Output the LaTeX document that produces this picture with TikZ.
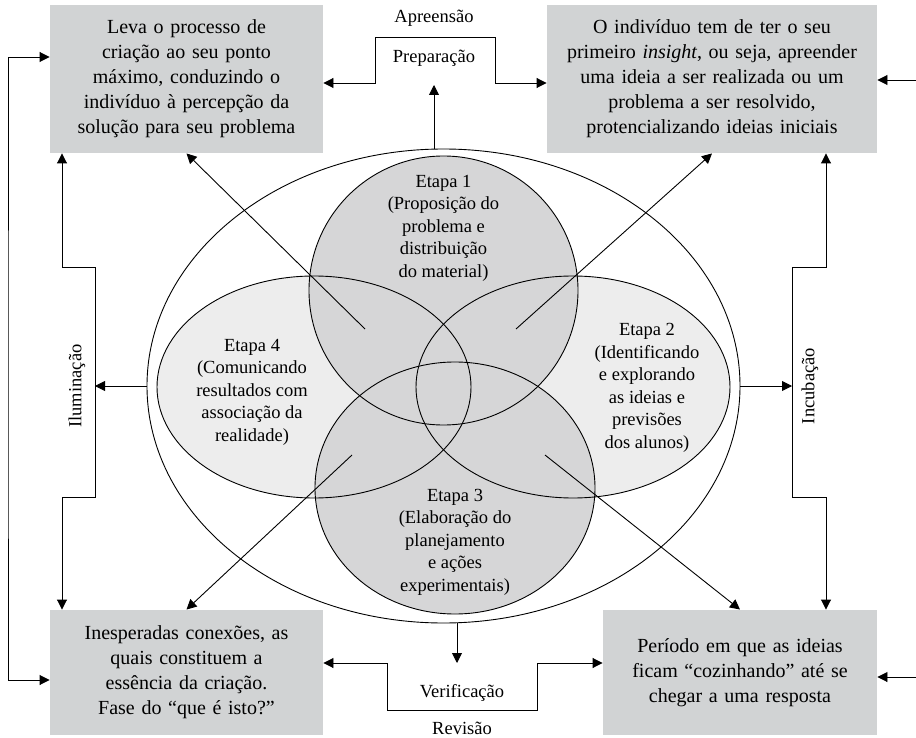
\documentclass[tikz,border=0pt]{standalone}
\usepackage{fontspec}
\setmainfont{Liberation Serif}
\usetikzlibrary{arrows.meta,shapes.geometric}

\definecolor{cinza}{RGB}{209,211,212}
\definecolor{escuro}{RGB}{214,214,215}
\definecolor{claro}{RGB}{237,237,237}

\tikzset{
  >={Triangle[length=10pt,width=10pt]},
  caixa/.style={fill=cinza, text width=#1, align=center, inner sep=0pt,
    font=\fontsize{20}{25}\selectfont},
  etapa/.style={align=center, inner sep=0pt, font=\fontsize{18.5}{22.5}\selectfont},
  rotulo/.style={inner sep=0pt, font=\fontsize{18.5}{20}\selectfont}
}

\begin{document}
\begin{tikzpicture}[x=1pt,y=-1pt,line width=0.9pt]
  \useasboundingbox (0,0) rectangle (916,738);
  % caixas
  \node[caixa=266pt, minimum width=273pt, minimum height=148pt] (solucao) at (186.5,79)
    {Leva o processo de\\criação ao seu ponto\\máximo, conduzindo o\\indivíduo à percepção da\\solução para seu problema};
  \node[caixa=324pt, minimum width=330pt, minimum height=148pt] (insight) at (712,79)
    {O indivíduo tem de ter o seu\\primeiro \textit{insight}, ou seja, apreender\\uma ideia a ser realizada ou um\\problema a ser resolvido,\\protencializando ideias iniciais};
  \node[caixa=266pt, minimum width=273pt, minimum height=125pt] (conexoes) at (186.5,672.5)
    {Inesperadas conexões, as\\quais constituem a\\essência da criação.\\Fase do “que é isto?”};
  \node[caixa=266pt, minimum width=274pt, minimum height=125pt] (periodo) at (740,672.5)
    {Período em que as ideias\\ficam “cozinhando” até se\\chegar a uma resposta};
  % oval e etapas
  \node[draw, ellipse, minimum width=593pt, minimum height=474pt, inner sep=0pt] (oval) at (443.5,386) {};
  \coordinate (c1) at (443.5,290.5);
  \coordinate (c2) at (573,387);
  \coordinate (c3) at (455,488);
  \coordinate (c4) at (314,387);
  \fill[claro] (c4) ellipse [x radius=157, y radius=111];
  \fill[claro] (c2) ellipse [x radius=157, y radius=111];
  \fill[escuro] (c1) circle [radius=134.5];
  \fill[escuro] (c3) ellipse [x radius=140, y radius=126];
  \draw (c4) ellipse [x radius=157, y radius=111];
  \draw (c2) ellipse [x radius=157, y radius=111];
  \draw (c1) circle [radius=134.5];
  \draw (c3) ellipse [x radius=140, y radius=126];
  \node[etapa] (etapa1) at (443.5,228) {Etapa 1\\(Proposição do\\problema e\\distribuição\\do material)};
  \node[etapa] (etapa2) at (647,388) {Etapa 2\\(Identificando\\e explorando\\as ideias e\\previsões\\dos alunos)};
  \node[etapa] (etapa3) at (455,542) {Etapa 3\\(Elaboração do\\planejamento\\e ações\\experimentais)};
  \node[etapa] (etapa4) at (252,392) {Etapa 4\\(Comunicando\\resultados com\\associação da\\realidade)};
  % rotulos
  \node[rotulo] (apreensao) at (434,18) {Apreensão};
  \node[rotulo] (preparacao) at (434,58) {Preparação};
  \node[rotulo] (verificacao) at (462,693) {Verificação};
  \node[rotulo] (revisao) at (462,728) {Revisão};
  \node[rotulo, rotate=90] (iluminacao) at (77,386) {Iluminação};
  \node[rotulo, rotate=90] (incubacao) at (810,386) {Incubação};
  % topo
  \coordinate (apE) at (375,37);
  \coordinate (apD) at (495,37);
  \coordinate (pr) at (434,85);
  \draw[<->] ([yshift=-4pt]solucao.east) -| (apE) -- (apD) |- ([yshift=-4pt]insight.west);
  \draw[->] (pr |- oval.north) -- (pr);
  % base
  \coordinate (veE) at (387,710);
  \coordinate (veD) at (537,710);
  \coordinate (ve) at (457,663);
  \draw[<->] ([yshift=9.5pt]conexoes.east) -| (veE) -- (veD) |- ([yshift=9.5pt]periodo.west);
  \draw[->] (ve |- oval.south) -- (ve);
  % esquerda
  \coordinate (ext) at (8,400);
  \coordinate (ilx) at (62,0);
  \coordinate (ilS) at (95,267);
  \coordinate (ilI) at (95,497);
  \draw[<->] ([yshift=22pt]solucao.west) -| (ext) |- ([yshift=-7.5pt]conexoes.west);
  \draw[<->] (solucao.south -| ilx) |- (ilS) -- (ilI) -| (conexoes.north -| ilx);
  \draw[->] (oval.west) -- (oval.west -| ilS);
  % direita
  \coordinate (inx) at (826,0);
  \coordinate (inS) at (792,267);
  \coordinate (inI) at (792,497);
  \coordinate (m1) at (916,80);
  \coordinate (m2) at (916,677);
  \draw[<->] (insight.south -| inx) |- (inS) -- (inI) -| (periodo.north -| inx);
  \draw[->] (oval.east) -- (oval.east -| inS);
  \draw[->] (m1) -- (m1 -| insight.east);
  \draw[->] (m2) -- (m2 -| periodo.east);
  % diagonais
  \coordinate (d1) at (365,329);
  \coordinate (d2) at (516,329);
  \coordinate (d3) at (352,455);
  \coordinate (d4) at (545,455);
  \draw[->] (d1) -- (solucao.south);
  \draw[->] (d2) -- (insight.south);
  \draw[->] (d3) -- (conexoes.north);
  \draw[->] (d4) -- (periodo.north);
\end{tikzpicture}
\end{document}
